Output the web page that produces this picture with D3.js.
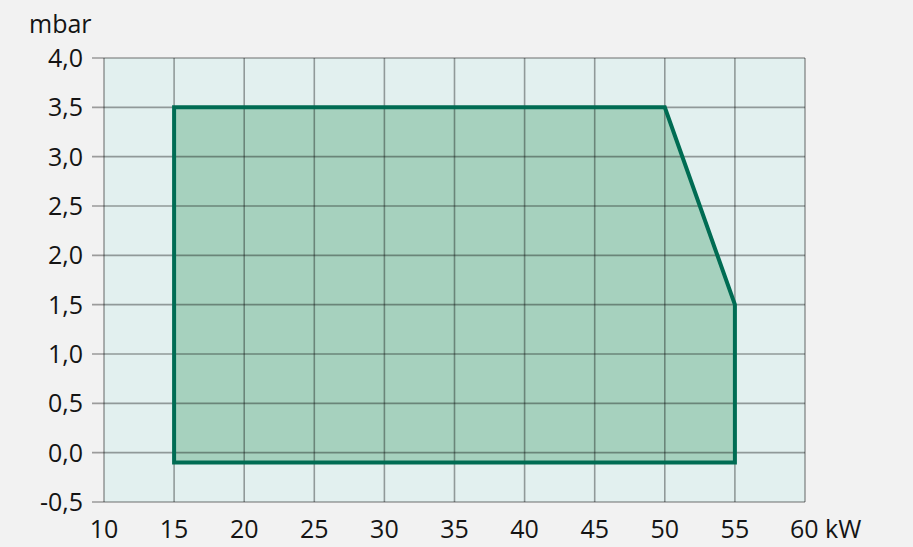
<!DOCTYPE html>
<html>
<head>
<meta charset="utf-8">
<script src="https://cdn.jsdelivr.net/npm/d3@7"></script>
<style>
  html, body { margin: 0; padding: 0; background: #f2f2f2; }
  svg { display: block; font-family: "Open Sans", sans-serif; }
</style>
</head>
<body>
<svg id="chart"></svg>
<script>
// data
const xTicks = [10, 15, 20, 25, 30, 35, 40, 45, 50, 55, 60];
const yTicks = [-0.5, 0, 0.5, 1, 1.5, 2, 2.5, 3, 3.5, 4];
const rangeKW = [15, 15, 50, 55, 55];
const rangeMbar = [-0.1, 3.5, 3.5, 1.5, -0.1];

const width = 913, height = 547;
const margin = { top: 58, right: 108, bottom: 45, left: 104 };
const innerWidth = width - margin.left - margin.right;
const innerHeight = height - margin.top - margin.bottom;

const svg = d3.select('#chart')
  .attr('width', width)
  .attr('height', height);

const g = svg.append('g')
  .attr('transform', `translate(${margin.left},${margin.top})`);

const x = d3.scaleLinear().domain([10, 60]).range([0, innerWidth]);
const y = d3.scaleLinear().domain([-0.5, 4]).range([innerHeight, 0]);
const fmt = d => d3.format('.1f')(d).replace('.', ',').replace('−', '-');

// plot background
g.append('rect')
  .attr('width', innerWidth)
  .attr('height', innerHeight)
  .attr('fill', '#e2f0ef');

// working range area
const pts = rangeKW.map((k, i) => [x(k), y(rangeMbar[i])]);
g.append('path')
  .attr('d', d3.line()(pts) + 'Z')
  .attr('fill', '#a6d1be');

// grid
g.append('g')
  .selectAll('line')
  .data(xTicks)
  .join('line')
  .attr('x1', d => x(d)).attr('x2', d => x(d))
  .attr('y1', 0).attr('y2', innerHeight)
  .attr('stroke', 'rgba(0,0,0,0.36)')
  .attr('stroke-width', 1.6);

g.append('g')
  .selectAll('line')
  .data(yTicks)
  .join('line')
  .attr('x1', -12).attr('x2', innerWidth)
  .attr('y1', d => y(d)).attr('y2', d => y(d))
  .attr('stroke', 'rgba(0,0,0,0.36)')
  .attr('stroke-width', 1.6);

// outline
g.append('path')
  .attr('d', d3.line()(pts) + 'Z')
  .attr('fill', 'none')
  .attr('stroke', '#006c53')
  .attr('stroke-width', 4)
  .attr('stroke-linejoin', 'miter');

// y labels
g.append('g')
  .selectAll('text')
  .data(yTicks)
  .join('text')
  .attr('x', -21)
  .attr('y', d => y(d))
  .attr('dy', '0.36em')
  .attr('text-anchor', 'end')
  .style('font-size', '25px')
  .attr('fill', '#141414')
  .text(fmt);

// x labels
g.append('g')
  .selectAll('text')
  .data(xTicks)
  .join('text')
  .attr('x', d => x(d))
  .attr('y', innerHeight + 36)
  .attr('text-anchor', d => d === 60 ? 'start' : 'middle')
  .attr('dx', d => d === 60 ? -15 : 0)
  .style('font-size', '25px')
  .attr('fill', '#141414')
  .text(d => d === 60 ? '60 kW' : d);

svg.append('text')
  .attr('x', 29)
  .attr('y', 33)
  .style('font-size', '25px')
  .attr('fill', '#141414')
  .text('mbar');
</script>
</body>
</html>
